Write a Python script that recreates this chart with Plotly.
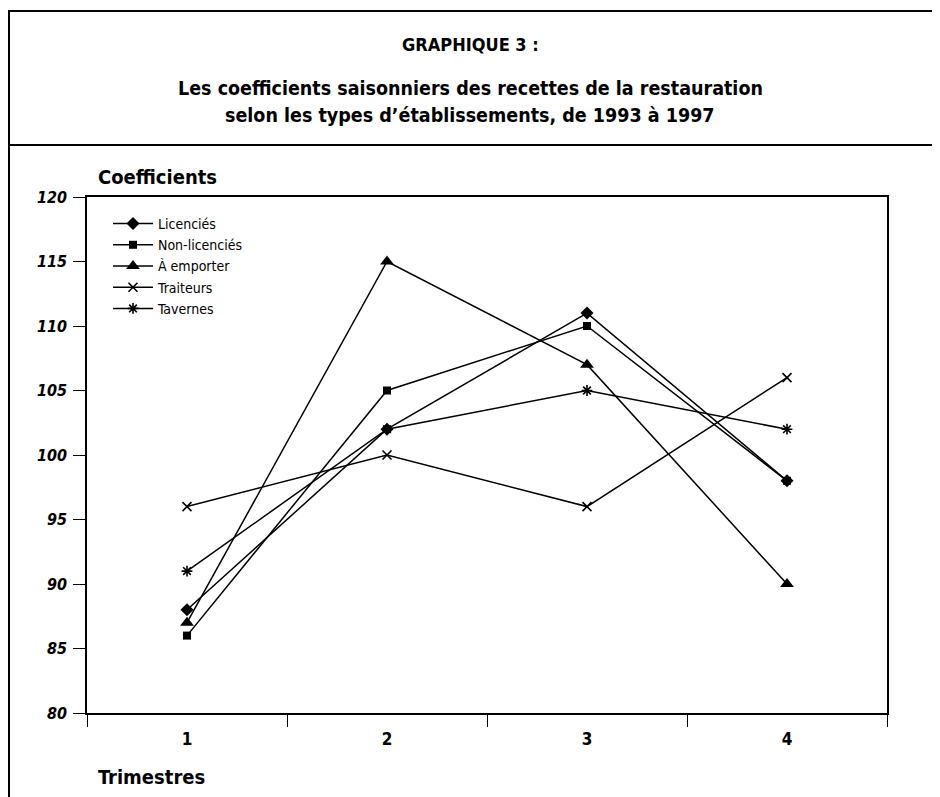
import plotly.graph_objects as go

# ---- data ----
trimestres = ["1", "2", "3", "4"]
licencies = [88, 102, 111, 98]
non_licencies = [86, 105, 110, 98]
a_emporter = [87, 115, 107, 90]
traiteurs = [96, 100, 96, 106]
tavernes = [91, 102, 105, 102]

series_names = ["Licenciés", "Non-licenciés", "À emporter", "Traiteurs", "Tavernes"]
series_values = [licencies, non_licencies, a_emporter, traiteurs, tavernes]
y_ticks = [80, 85, 90, 95, 100, 105, 110, 115, 120]

title_main = "GRAPHIQUE 3 :"
title_sub1 = "Les coefficients saisonniers des recettes de la restauration"
title_sub2 = "selon les types d’établissements, de 1993 à 1997"
y_title = "Coefficients"
x_title = "Trimestres"

# ---- style ----
FONT = "Liberation Sans Narrow, DejaVu Sans Condensed, Arial Narrow, sans-serif"
markers = [
    dict(symbol="diamond", size=10),
    dict(symbol="square", size=8),
    dict(symbol="triangle-up", size=12),
    dict(symbol="x-thin-open", size=9, line=dict(width=1.6, color="black")),
    dict(symbol="asterisk-open", size=9, line=dict(width=1.6, color="black")),
]

fig = go.Figure()
for i, (name, vals) in enumerate(zip(series_names, series_values)):
    m = dict(color="black")
    m.update(markers[i])
    fig.add_trace(go.Scatter(
        x=trimestres, y=vals, name=name, mode="lines+markers",
        line=dict(color="black", width=1.5), marker=m,
        legendgroup=name,
    ))

# page is offset by the 8px default body margin
OFF = 8
W, H = 940 - OFF, 797 - OFF
# plot area in page pixels: x 87..887, y 197..713
PL, PR, PT, PB = 87, 887, 197, 713
L, T = PL - OFF, PT - OFF
R, B = W - (PR - OFF), H - (PB - OFF)
pw, ph = PR - PL, PB - PT

def px(x):
    return (x - PL) / pw

def py(y):
    return (PB - y) / ph

fig.update_layout(
    width=W, height=H,
    margin=dict(l=L, r=R, t=T, b=B, autoexpand=False),
    paper_bgcolor="white", plot_bgcolor="white",
    font=dict(family=FONT, color="black"),
    showlegend=True,
    legend=dict(
        x=px(108), y=py(208), xanchor="left", yanchor="top",
        font=dict(family=FONT, size=14, color="black"),
        bgcolor="rgba(0,0,0,0)", tracegroupgap=0, itemwidth=40,
        traceorder="grouped",
    ),
    xaxis=dict(
        type="category", tickson="boundaries",
        range=[-0.5, len(trimestres) - 0.5], autorange=False,
        showline=True, linecolor="black", linewidth=1.5, mirror=True,
        ticks="outside", ticklen=12, tickcolor="black", tickwidth=1.2,
        showgrid=False, zeroline=False,
        ticklabelstandoff=10,
        tickfont=dict(family=FONT, size=17, weight="bold"),
    ),
    yaxis=dict(
        range=[80, 120], tickvals=y_ticks,
        showline=True, linecolor="black", linewidth=1.5, mirror=True,
        ticks="outside", ticklen=12, tickcolor="black", tickwidth=1.2,
        showgrid=False, zeroline=False,
        ticklabelstandoff=3,
        tickfont=dict(family=FONT, size=16, weight="bold", style="italic"),
    ),
    annotations=[
        dict(text=title_main, xref="paper", yref="paper", x=px(470), y=py(45),
             xanchor="center", yanchor="middle", showarrow=False,
             font=dict(family=FONT, size=18, weight="bold")),
        dict(text=title_sub1, xref="paper", yref="paper", x=px(470), y=py(88),
             xanchor="center", yanchor="middle", showarrow=False,
             font=dict(family=FONT, size=19.5, weight="bold")),
        dict(text=title_sub2, xref="paper", yref="paper", x=px(470), y=py(116),
             xanchor="center", yanchor="middle", showarrow=False,
             font=dict(family=FONT, size=19.5, weight="bold")),
        dict(text=y_title, xref="paper", yref="paper", x=px(96), y=py(177),
             xanchor="left", yanchor="middle", showarrow=False,
             font=dict(family=FONT, size=20, weight="bold")),
        dict(text=x_title, xref="paper", yref="paper", x=px(96), y=py(777),
             xanchor="left", yanchor="middle", showarrow=False,
             font=dict(family=FONT, size=20, weight="bold")),
    ],
    shapes=[
        dict(type="line", xref="paper", yref="paper", x0=px(8), x1=px(940),
             y0=py(11), y1=py(11), line=dict(color="black", width=2)),
        dict(type="line", xref="paper", yref="paper", x0=px(8), x1=px(940),
             y0=py(145), y1=py(145), line=dict(color="black", width=2)),
        dict(type="line", xref="paper", yref="paper", x0=px(9), x1=px(9),
             y0=py(11), y1=py(797), line=dict(color="black", width=2)),
    ],
)

fig.write_html("out.html")
